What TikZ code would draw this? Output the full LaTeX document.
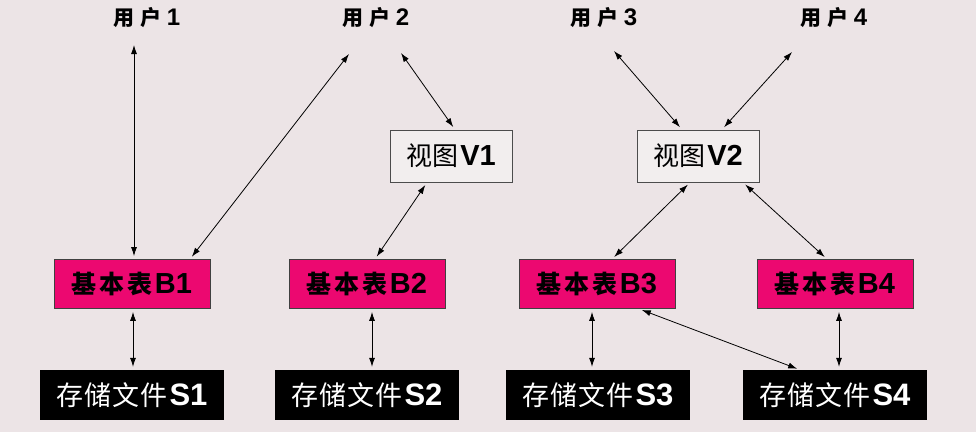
\documentclass[tikz,border=0pt]{standalone}
\usepackage{fontspec}
\setmainfont{Liberation Sans}
\newfontfamily\cjk{Noto Sans CJK SC}
\usetikzlibrary{arrows.meta}
\definecolor{bgcol}{RGB}{236,228,230}
\definecolor{tabpink}{RGB}{236,8,112}
\definecolor{viewbg}{RGB}{242,238,238}
\tikzset{
    user/.style={inner sep=0pt, font=\fontsize{24}{26}\selectfont\bfseries},
    view/.style={draw=black!70, line width=1pt, fill=viewbg, minimum width=122pt,
        minimum height=52pt, inner sep=0pt, font=\fontsize{29}{32}\selectfont\bfseries},
    base/.style={draw=black!75, line width=0.8pt, fill=tabpink, minimum width=156pt,
        minimum height=49pt, inner sep=0pt, font=\fontsize{29}{32}\selectfont\bfseries},
    file/.style={fill=black, text=white, minimum width=184pt, minimum height=50pt,
        inner sep=0pt, font=\fontsize{31}{34}\selectfont\bfseries},
    con/.style={<->, line width=0.8pt, shorten <=3pt, shorten >=3pt},
}
\begin{document}
\begin{tikzpicture}[>={Latex[length=9pt,width=6pt]}, x=1pt, y=-1pt]
    % 1. Nền
    \fill[bgcol] (0,0) rectangle (976,432);
    \useasboundingbox (0,0) rectangle (976,432);

    % 2. Người dùng
    \node[user] (u1) at (147,18) {{\cjk\fontsize{21}{23}\selectfont 用\hspace{6pt}户\hspace{5pt}}1};
    \node[user] (u2) at (376,18) {{\cjk\fontsize{21}{23}\selectfont 用\hspace{6pt}户\hspace{5pt}}2};
    \node[user] (u3) at (604,18) {{\cjk\fontsize{21}{23}\selectfont 用\hspace{6pt}户\hspace{5pt}}3};
    \node[user] (u4) at (834,18) {{\cjk\fontsize{21}{23}\selectfont 用\hspace{6pt}户\hspace{5pt}}4};
    \coordinate (u1a) at (134,45);
    \coordinate (u2a) at (349,54);
    \coordinate (u2b) at (401,53);
    \coordinate (u3a) at (614,51);
    \coordinate (u4a) at (792,52);

    % 3. Khung nhìn
    \node[view] (v1) at (451,156) {{\cjk\mdseries\fontsize{26}{28}\selectfont 视图\hspace{2pt}}V1};
    \node[view] (v2) at (698,156) {{\cjk\mdseries\fontsize{26}{28}\selectfont 视图\hspace{2pt}}V2};

    % 4. Bảng cơ sở
    \node[base] (b1) at (132,284) {{\cjk\fontsize{25}{27}\selectfont 基\hspace{3pt}本\hspace{3pt}表\hspace{2pt}}B1};
    \node[base] (b2) at (367,284) {{\cjk\fontsize{25}{27}\selectfont 基\hspace{3pt}本\hspace{3pt}表\hspace{2pt}}B2};
    \node[base] (b3) at (597,284) {{\cjk\fontsize{25}{27}\selectfont 基\hspace{3pt}本\hspace{3pt}表\hspace{2pt}}B3};
    \node[base] (b4) at (835,284) {{\cjk\fontsize{25}{27}\selectfont 基\hspace{3pt}本\hspace{3pt}表\hspace{2pt}}B4};

    % 5. Tệp lưu trữ
    \node[file] (s1) at (132,395) {{\cjk\mdseries\fontsize{27}{29}\selectfont 存\hspace{1pt}储\hspace{1pt}文\hspace{1pt}件\hspace{2pt}}S1};
    \node[file] (s2) at (367,395) {{\cjk\mdseries\fontsize{27}{29}\selectfont 存\hspace{1pt}储\hspace{1pt}文\hspace{1pt}件\hspace{2pt}}S2};
    \node[file] (s3) at (598,395) {{\cjk\mdseries\fontsize{27}{29}\selectfont 存\hspace{1pt}储\hspace{1pt}文\hspace{1pt}件\hspace{2pt}}S3};
    \node[file] (s4) at (835,395) {{\cjk\mdseries\fontsize{27}{29}\selectfont 存\hspace{1pt}储\hspace{1pt}文\hspace{1pt}件\hspace{2pt}}S4};

    % 6. Mũi tên
    \draw[con, shorten <=0pt] (u1a) -- (u1a |- b1.north);
    \draw[con, shorten <=0pt] (u2a) -- ([xshift=58pt]b1.north);
    \draw[con, shorten <=0pt] (u2b) -- ([xshift=4pt]v1.north);
    \draw[con] ([xshift=-24pt]v1.south) -- ([xshift=8pt]b2.north);
    \draw[con, shorten <=0pt] (u3a) -- ([xshift=-16pt]v2.north);
    \draw[con, shorten <=0pt] (u4a) -- ([xshift=24pt]v2.north);
    \draw[con] ([xshift=-8pt]v2.south) -- ([xshift=15pt]b3.north);
    \draw[con] ([xshift=45pt]v2.south) -- ([xshift=-8pt]b4.north);

    \draw[con] ([xshift=1pt]b1.south) -- ([xshift=1pt]s1.north);
    \draw[con] ([xshift=5pt]b2.south) -- ([xshift=5pt]s2.north);
    \draw[con] ([xshift=-5pt]b3.south) -- ([xshift=-6pt]s3.north);
    \draw[con] ([xshift=4pt]b4.south) -- ([xshift=4pt]s4.north);
    \draw[con] ([xshift=42pt]b3.south) -- ([xshift=-35pt]s4.north);
\end{tikzpicture}
\end{document}
